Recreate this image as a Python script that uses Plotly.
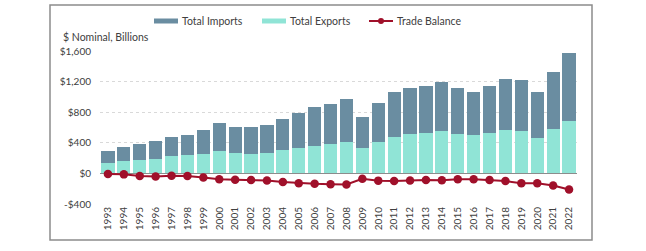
import plotly.graph_objects as go

years = [str(y) for y in range(1993, 2023)]
exports = [142.0, 165.2, 173.5, 191.0, 223.2, 235.6, 253.6, 290.2, 264.7, 258.4,
           267.3, 300.7, 332.1, 364.4, 384.8, 412.3, 333.6, 413.0, 479.6, 508.6,
           527.7, 553.8, 517.4, 496.5, 525.6, 564.7, 549.0, 468.1, 584.1, 680.9]
imports = [151.1, 177.9, 206.5, 230.2, 254.1, 269.4, 308.4, 366.7, 347.6, 343.7,
           359.7, 412.3, 460.5, 500.7, 527.8, 557.5, 402.9, 507.5, 578.2, 601.9,
           612.6, 643.4, 592.6, 572.3, 613.3, 665.0, 677.5, 595.4, 741.9, 891.4]
balance = [-9.1, -12.7, -33.0, -39.2, -30.9, -33.8, -54.8, -76.5, -82.9, -85.3,
           -92.4, -111.6, -128.4, -136.3, -143.0, -145.2, -69.3, -94.5, -98.6, -93.3,
           -84.9, -89.6, -75.2, -75.8, -87.7, -100.3, -128.5, -127.3, -157.8, -210.5]
ytick_vals = [-400, 0, 400, 800, 1200, 1600]
ytick_text = ["-$400", "$0", "$400", "$800", "$1,200", "$1,600"]

FONT = "Lato"
TXT = "#404040"
C_IMP = "#6A8DA1"
C_EXP = "#90E4D6"
C_BAL = "#A0102A"

L, R, T, B = 100, 69, 51, 47
W, H = 646, 251
PW, PH = W - L - R, H - T - B


def px(x):
    return (x - L) / PW


def py(y):
    return (H - B - y) / PH


fig = go.Figure()
fig.add_trace(go.Bar(x=years, y=exports, name="Total Exports",
                     marker=dict(color=C_EXP, line=dict(width=0))))
fig.add_trace(go.Bar(x=years, y=imports, name="Total Imports",
                     marker=dict(color=C_IMP, line=dict(width=0))))
fig.add_trace(go.Scatter(x=years, y=balance, name="Trade Balance", mode="lines+markers",
                         line=dict(color=C_BAL, width=2),
                         marker=dict(color=C_BAL, size=8.5)))

fig.update_layout(
    width=W, height=H,
    margin=dict(l=L, r=R, t=T, b=B, autoexpand=False),
    barmode="stack", bargap=0.17,
    paper_bgcolor="white", plot_bgcolor="white",
    font=dict(family=FONT, size=10, color=TXT),
    showlegend=False,
)

fig.update_yaxes(range=[-400, 1600], tickvals=ytick_vals, ticktext=ytick_text,
                 showgrid=True, gridcolor="#d9d9d9", griddash="dot", gridwidth=1,
                 zeroline=True, zerolinecolor="#8c8c8c", zerolinewidth=1,
                 ticks="", ticklabelstandoff=8, tickfont=dict(size=10, color=TXT),
                 showline=False, automargin=False)
fig.update_xaxes(range=[-0.5, len(years) - 0.5], tickangle=-90, ticks="",
                 showgrid=False, showline=False,
                 tickfont=dict(size=10, color=TXT), automargin=False)

fig.add_annotation(text="$ Nominal, Billions", xref="paper", yref="paper",
                   x=px(61), y=py(37), xanchor="left", yanchor="middle",
                   showarrow=False, font=dict(size=10.5, color=TXT))

# manual legend
legend_items = [("Total Imports", C_IMP, 154, "bar"),
                ("Total Exports", C_EXP, 262, "bar"),
                ("Trade Balance", C_BAL, 369, "line")]
for label, col, x0, kind in legend_items:
    if kind == "bar":
        fig.add_shape(type="rect", xref="paper", yref="paper",
                      x0=px(x0), x1=px(x0 + 24), y0=py(23.5), y1=py(18.5),
                      line=dict(width=0), fillcolor=col)
    else:
        fig.add_shape(type="line", xref="paper", yref="paper",
                      x0=px(x0), x1=px(x0 + 24), y0=py(21), y1=py(21),
                      line=dict(color=col, width=2))
        fig.add_shape(type="circle", xref="paper", yref="paper",
                      x0=px(x0 + 9), x1=px(x0 + 15), y0=py(24), y1=py(18),
                      line=dict(width=0), fillcolor=col)
    fig.add_annotation(text=label, xref="paper", yref="paper",
                       x=px(x0 + 26), y=py(21), xanchor="left", yanchor="middle",
                       showarrow=False, font=dict(size=10.5, color=TXT))

fig.add_shape(type="rect", xref="paper", yref="paper",
              x0=px(50), x1=px(592), y0=py(240), y1=py(5),
              line=dict(color="#8c8c8c", width=1.5), fillcolor="rgba(0,0,0,0)")

fig.write_html("out.html", config={"displayModeBar": False},
               post_script="document.body.style.margin='0';document.body.style.overflow='hidden';")
